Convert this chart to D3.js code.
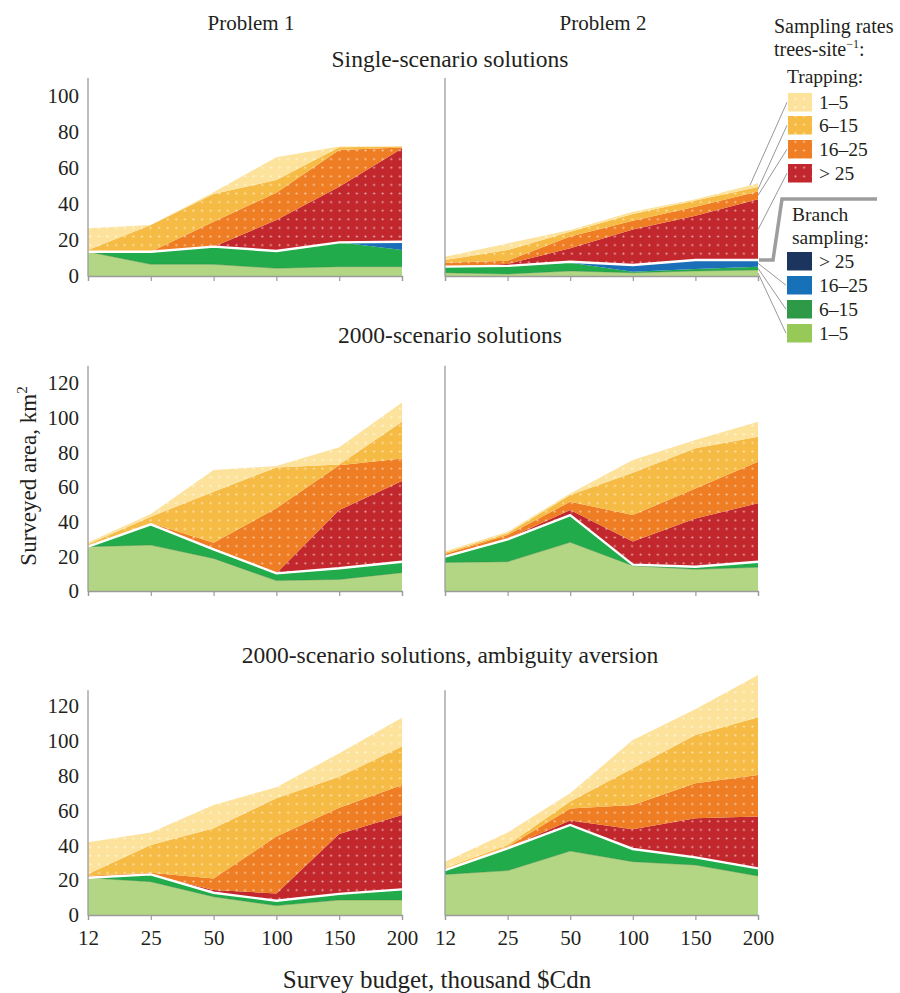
<!DOCTYPE html>
<html>
<head>
<meta charset="utf-8">
<script src="https://cdn.jsdelivr.net/npm/d3@7"></script>
</head>
<body style="margin:0;background:#fff">
<svg id="chart" width="900" height="993"></svg>
<script>
// Survey budget categories (thousand $Cdn)
const budgets = ["12", "25", "50", "100", "150", "200"];

// Stack order, bottom to top: branch sampling 1–5, 6–15, 16–25, >25,
// then trapping >25, 16–25, 6–15, 1–5 (trees per site)
const layerKeys = ["br1", "br2", "br3", "br4", "tr4", "tr3", "tr2", "tr1"];

// Surveyed area (km²) per layer, one row per layer in stack order, one value per budget
const singleP1 = [
  [13.5, 6.5, 6.5, 4.3, 5.2, 5.2],
  [0, 7.0, 9.8, 9.6, 13.5, 9.2],
  [0, 0, 0, 0, 0, 4.6],
  [0, 0, 0, 0, 0, 0],
  [0, 0, 0, 17.2, 30.9, 51.9],
  [0, 0, 13.9, 15.2, 20.4, 0.5],
  [0.9, 14.8, 15.4, 7.0, 1.5, 0.6],
  [12.1, 0, 0.9, 12.7, 0.5, 0]
];
const singleP2 = [
  [1.8, 1.1, 2.8, 1.8, 2.8, 3.3],
  [3.4, 4.5, 4.6, 0.6, 1.1, 1.9],
  [0, 0, 0.5, 3.7, 5.0, 3.7],
  [0, 0, 0, 0, 0, 0],
  [0, 1.1, 7.5, 19.8, 24.6, 33.7],
  [2.2, 1.8, 6.5, 4.8, 5.0, 4.4],
  [1.5, 5.9, 2.7, 3.7, 3.4, 2.5],
  [1.8, 3.7, 1.0, 1.3, 0.7, 2.0]
];
const scen2000P1 = [
  [25.6, 26.5, 18.8, 6.0, 6.7, 10.6],
  [0, 12.0, 5.2, 4.2, 6.4, 6.3],
  [0, 0, 0, 0, 0, 0],
  [0, 0, 0, 0, 0, 0],
  [0, 0, 0, 0, 33.6, 46.6],
  [0.4, 0.7, 3.9, 37.5, 25.8, 13.0],
  [1.0, 3.7, 29.4, 23.6, 0.5, 21.2],
  [1.0, 1.5, 12.5, 0.8, 10.0, 11.0]
];
const scen2000P2 = [
  [16.5, 16.9, 28.1, 14.6, 12.5, 13.7],
  [3.3, 12.9, 15.7, 0.6, 1.5, 3.2],
  [0, 0, 0, 0, 0, 0],
  [0, 0, 0, 0, 0, 0],
  [0, 0.5, 2.9, 13.3, 27.9, 33.7],
  [1.5, 2.0, 4.8, 15.3, 17.3, 24.0],
  [0.8, 1.0, 3.9, 24.5, 23.1, 14.4],
  [0.9, 0.9, 0.9, 7.3, 4.8, 8.7]
];
const aversionP1 = [
  [21.4, 19.1, 10.5, 5.4, 8.6, 8.6],
  [0, 4.2, 2.3, 2.8, 3.5, 6.1],
  [0, 0, 0, 0, 0, 0],
  [0, 0, 0, 0, 0, 0],
  [0, 0, 1.6, 4.2, 34.4, 42.7],
  [1.1, 1.0, 6.6, 32.6, 15.1, 17.2],
  [1.0, 15.9, 28.8, 22.0, 17.8, 22.1],
  [18.2, 7.1, 13.4, 6.3, 13.4, 16.6]
];
const aversionP2 = [
  [23.3, 25.5, 36.7, 30.6, 28.7, 22.4],
  [2.5, 12.8, 15.0, 7.3, 4.4, 4.4],
  [0, 0, 0, 0, 0, 0],
  [0, 0, 0, 0, 0, 0],
  [0, 0.3, 2.5, 11.3, 22.4, 29.7],
  [0.5, 0.6, 7.0, 14.0, 20.1, 23.9],
  [0.7, 1.0, 3.9, 21.0, 27.7, 33.1],
  [3.6, 7.1, 4.8, 16.3, 14.8, 24.3]
];

// Axis tick labels
const yTicksSingle = [0, 20, 40, 60, 80, 100];
const yTicksMulti = [0, 20, 40, 60, 80, 100, 120];

// Text
const problemTitles = ["Problem 1", "Problem 2"];
const rowTitles = ["Single-scenario solutions", "2000-scenario solutions", "2000-scenario solutions, ambiguity aversion"];
const trapLabels = ["1–5", "6–15", "16–25", "> 25"];
const branchLabels = ["> 25", "16–25", "6–15", "1–5"];

// Fill colours
const fills = {
  br1: "#b2d683", br2: "#22ab4b", br3: "#1a6fb8", br4: "#1b355f",
  tr4: "#c1272d", tr3: "#ee7d23", tr2: "#f6bb45", tr1: "#fce29b"
};
const legendBranchFills = ["#1b355f", "#1771b8", "#2e9a47", "#96c957"];
const trapKeysTopDown = ["tr1", "tr2", "tr3", "tr4"];

const FONT = "Liberation Serif";
const TEXT_COLOR = "#231f20";

const svg = d3.select("#chart");
const defs = svg.append("defs");

// Dotted fills for the trapping layers
trapKeysTopDown.forEach(k => {
  const p = defs.append("pattern")
    .attr("id", "dots-" + k)
    .attr("patternUnits", "userSpaceOnUse")
    .attr("width", 8.6).attr("height", 8.6);
  p.append("rect").attr("width", 8.6).attr("height", 8.6).attr("fill", fills[k]);
  p.append("circle").attr("cx", 4.3).attr("cy", 4.3).attr("r", 1.05)
    .attr("fill", "#fff").attr("opacity", k === "tr1" ? 0.75 : 0.62);
});
const fillOf = k => k.startsWith("tr") ? `url(#dots-${k})` : fills[k];

// Panel layout
const cols = [[88, 402], [445, 758]];
const rows = [
  { data: [singleP1, singleP2], domain: [0, 110], range: [276, 78], ticks: yTicksSingle, title: rowTitles[0], titleY: 67, labels: false },
  { data: [scen2000P1, scen2000P2], domain: [0, 130], range: [591, 365.7], ticks: yTicksMulti, title: rowTitles[1], titleY: 343, labels: false },
  { data: [aversionP1, aversionP2], domain: [0, 129], range: [915, 690.3], ticks: yTicksMulti, title: rowTitles[2], titleY: 663, labels: true }
];

const stack = d3.stack().keys(layerKeys);
const axisGrey = "#9b9b9b";
let legendAnchor = null;

rows.forEach((row, ri) => {
  const y = d3.scaleLinear().domain(row.domain).range(row.range);
  row.data.forEach((layers, ci) => {
    const x = d3.scalePoint().domain(budgets).range(cols[ci]);
    const table = budgets.map((b, i) => {
      const o = { budget: b };
      layerKeys.forEach((k, li) => { o[k] = layers[li][i]; });
      return o;
    });
    const series = stack(table);
    const g = svg.append("g");

    const area = d3.area()
      .x(d => x(d.data.budget))
      .y0(d => y(d[0]))
      .y1(d => y(d[1]));

    g.selectAll("path.layer").data(series).join("path")
      .attr("class", "layer")
      .attr("d", area)
      .attr("fill", s => fillOf(s.key));

    // faint edge along the top of the lightest branch layer
    const br1 = series[0];
    g.append("path")
      .attr("d", d3.line().x(d => x(d.data.budget)).y(d => y(d[1]))(br1))
      .attr("fill", "none").attr("stroke", "#3f7a3a").attr("stroke-opacity", 0.45).attr("stroke-width", 0.8);

    // white divider between branch sampling and trapping
    const brTop = series[3];
    g.append("path")
      .attr("d", d3.line().x(d => x(d.data.budget)).y(d => y(d[1]))(brTop))
      .attr("fill", "none").attr("stroke", "#fff").attr("stroke-width", 2.4);

    // axes
    g.append("line")
      .attr("x1", cols[ci][0]).attr("x2", cols[ci][0])
      .attr("y1", row.range[1]).attr("y2", row.range[0] + 0.5)
      .attr("stroke", axisGrey).attr("stroke-width", 1.3);

    const xAxis = d3.axisBottom(x).tickSize(5).tickPadding(10)
      .tickFormat(row.labels ? (d => d) : () => "");
    const xa = g.append("g").attr("transform", `translate(0,${row.range[0]})`).call(xAxis);
    xa.select(".domain").attr("stroke", axisGrey).attr("stroke-width", 1.3);
    xa.selectAll(".tick line").attr("stroke", axisGrey).attr("stroke-width", 1.2);
    xa.selectAll(".tick text").attr("font-size", 21);

    if (ci === 0) {
      const yAxis = d3.axisLeft(y).tickValues(row.ticks).tickSize(0).tickPadding(9);
      const ya = g.append("g").attr("transform", `translate(${cols[ci][0]},0)`).call(yAxis);
      ya.select(".domain").remove();
      ya.selectAll(".tick text").attr("font-size", 21);
    }

    if (ri === 0 && ci === 1) {
      const last = series.map(s => s[s.length - 1]);
      legendAnchor = { x: x(budgets[budgets.length - 1]), y, last };
    }
  });

  svg.append("text").attr("x", 450).attr("y", row.titleY)
    .attr("text-anchor", "middle").attr("font-size", 23.5).text(row.title);
});

// Column titles
[251, 603].forEach((cx, i) => {
  svg.append("text").attr("x", cx).attr("y", 30).attr("text-anchor", "middle")
    .attr("font-size", 21).text(problemTitles[i]);
});

// Axis titles
svg.append("text").attr("transform", "translate(36,476) rotate(-90)")
  .attr("text-anchor", "middle").attr("font-size", 23)
  .call(t => {
    t.append("tspan").text("Surveyed area, km");
    t.append("tspan").attr("font-size", 15).attr("dy", -9).text("2");
  });
svg.append("text").attr("x", 437).attr("y", 988).attr("text-anchor", "middle")
  .attr("font-size", 25).text("Survey budget, thousand $Cdn");

// Legend
const lg = svg.append("g");
lg.append("text").attr("x", 774).attr("y", 33).attr("font-size", 20).text("Sampling rates");
lg.append("text").attr("x", 774).attr("y", 56).attr("font-size", 20)
  .call(t => {
    t.append("tspan").text("trees-site");
    t.append("tspan").attr("font-size", 12).attr("dy", -8).text("−1");
    t.append("tspan").attr("dy", 8).text(":");
  });
lg.append("text").attr("x", 787).attr("y", 83).attr("font-size", 19.5).text("Trapping:");

const swX = 788, swW = 24, swH = 18.5;
const trapSwY = [93, 116, 140, 164];
const lineGrey = "#8c8c8c";
const { x: ax, y: ay, last } = legendAnchor;

trapKeysTopDown.forEach((k, i) => {
  lg.append("rect").attr("x", swX).attr("y", trapSwY[i]).attr("width", swW).attr("height", swH)
    .attr("fill", fillOf(k));
  lg.append("text").attr("x", 819).attr("y", trapSwY[i] + 16).attr("font-size", 19.5).text(trapLabels[i]);
  const s = last[layerKeys.indexOf(k)];
  lg.append("line")
    .attr("x1", swX - 1).attr("y1", trapSwY[i] + swH / 2)
    .attr("x2", ax + (i === 0 ? -8 : 0)).attr("y2", ay((s[0] + s[1]) / 2))
    .attr("stroke", lineGrey).attr("stroke-width", 0.9);
});

// bracket separating the branch-sampling layers
const brTotal = last[3][1];
lg.append("path")
  .attr("d", `M${ax + 1},${ay(brTotal)} H773 L782,199 H877`)
  .attr("fill", "none").attr("stroke", "#9d9d9d").attr("stroke-width", 3.5);

lg.append("text").attr("x", 792).attr("y", 221).attr("font-size", 19.5).text("Branch");
lg.append("text").attr("x", 792).attr("y", 243.5).attr("font-size", 19.5).text("sampling:");

const brSwY = [252, 276, 300, 324];
const brKeysTopDown = ["br4", "br3", "br2", "br1"];
brKeysTopDown.forEach((k, i) => {
  lg.append("rect").attr("x", swX - 1).attr("y", brSwY[i]).attr("width", swW + 1).attr("height", swH)
    .attr("fill", legendBranchFills[i]);
  lg.append("text").attr("x", 819).attr("y", brSwY[i] + 16).attr("font-size", 19.5).text(branchLabels[i]);
  if (k !== "br4") {
    const s = last[layerKeys.indexOf(k)];
    lg.append("line")
      .attr("x1", ax).attr("y1", ay((s[0] + s[1]) / 2))
      .attr("x2", swX - 2).attr("y2", brSwY[i] + swH / 2)
      .attr("stroke", lineGrey).attr("stroke-width", 0.9);
  }
});

// Serif face for every label
svg.selectAll("g").filter(function () { return this.hasAttribute("font-family"); })
  .attr("font-family", FONT);
svg.selectAll("text")
  .attr("font-family", FONT)
  .style("font-family", FONT)
  .attr("fill", TEXT_COLOR);
</script>
</body>
</html>
